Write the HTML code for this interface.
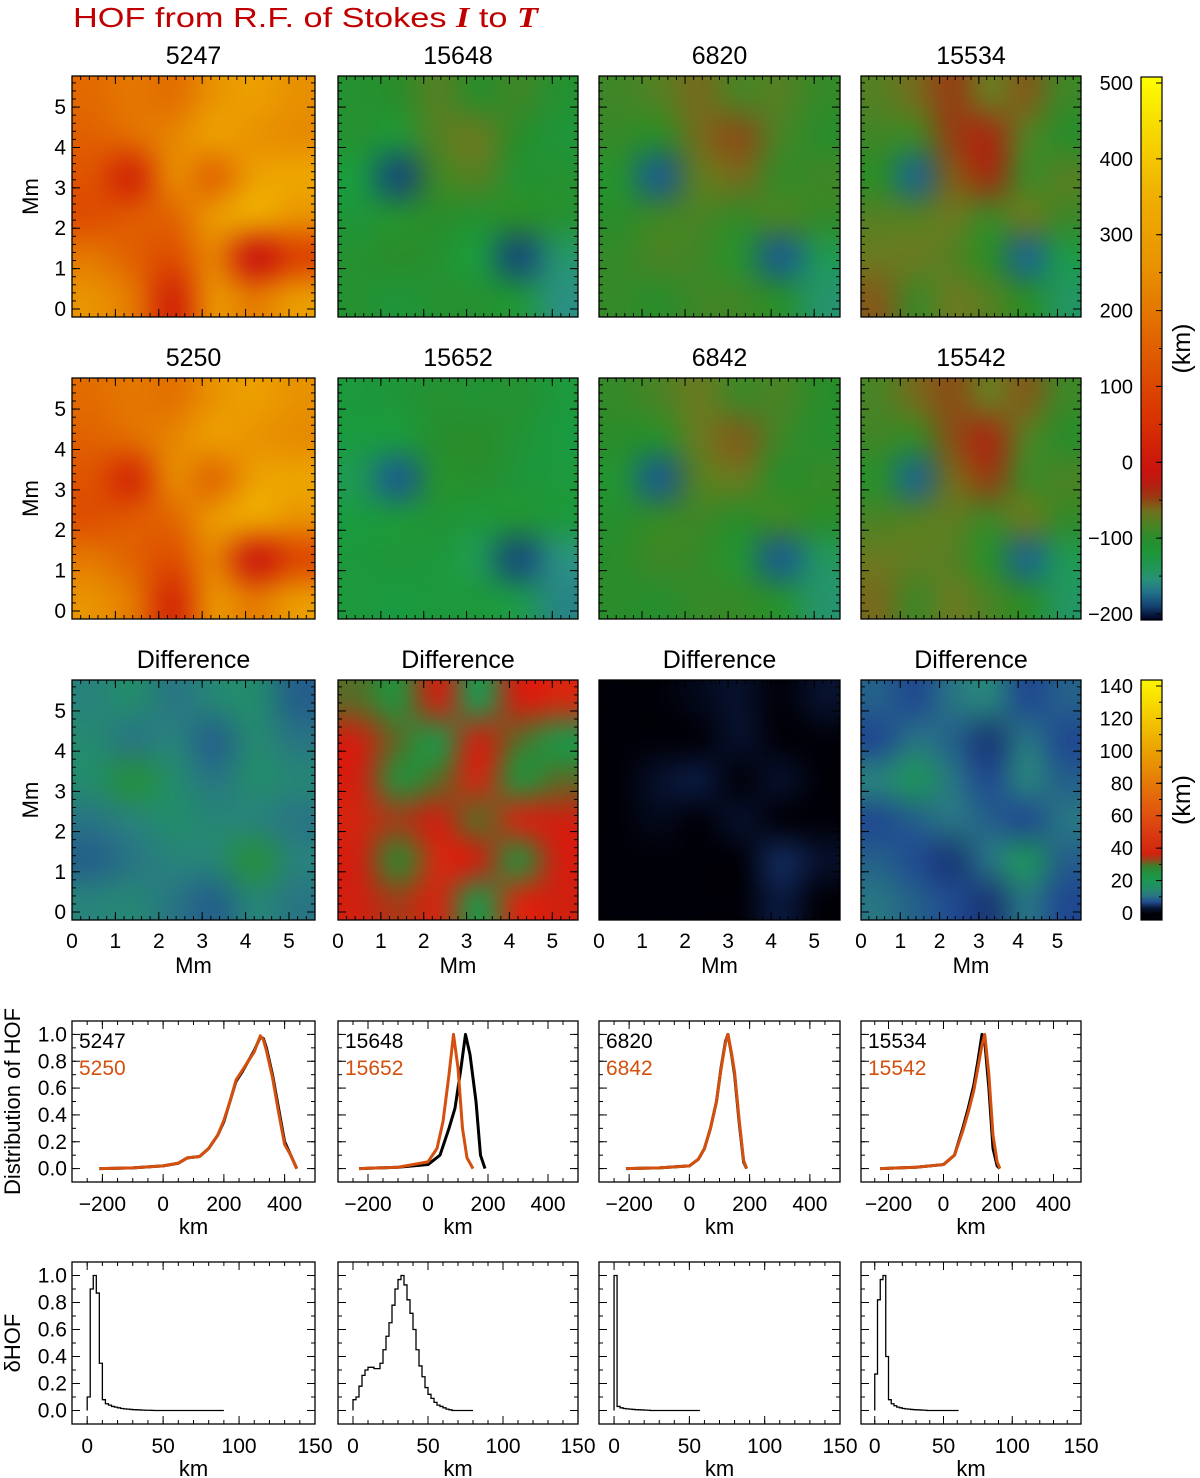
<!DOCTYPE html>
<html><head><meta charset="utf-8"><title>HOF from R.F. of Stokes I to T</title>
<style>
html,body{margin:0;padding:0;background:#fff;}
#root{position:relative;width:1200px;height:1478px;overflow:hidden;background:#fff;font-family:"Liberation Sans",sans-serif;}
canvas{position:absolute;}
#ov{position:absolute;left:0;top:0;}
</style></head>
<body>
<div id="root">
<svg id="ov" width="1200" height="1478" xmlns="http://www.w3.org/2000/svg">
<text x="73" y="27" font-size="28" fill="#c00000" font-family="Liberation Sans, sans-serif" textLength="465" lengthAdjust="spacingAndGlyphs">HOF from R.F. of Stokes <tspan font-family="Liberation Serif, serif" font-style="italic" font-weight="bold">I</tspan> to <tspan font-family="Liberation Serif, serif" font-style="italic" font-weight="bold">T</tspan></text>
</svg>
</div>
<script>
// ---------------- data ----------------
const panelTitlesRow1 = ["5247","15648","6820","15534"];
const panelTitlesRow2 = ["5250","15652","6842","15542"];
const panelTitlesRow3 = ["Difference","Difference","Difference","Difference"];
const hofTicks = [500,400,300,200,100,0,-100,-200];
const diffTicks = [140,120,100,80,60,40,20,0];
const mmTicks = [0,1,2,3,4,5];

// coarse HOF maps (km), rows top->bottom
const map5247 = [[170,200,180,260,300,250],[150,180,230,300,260,240],[120,20,240,160,300,320],[110,140,160,280,330,260],[200,150,110,220,-20,80],[260,200,20,260,200,280]];
const map15648 = [[-110,-100,-80,-100,-90,-110],[-110,-120,-80,-70,-100,-120],[-130,-190,-90,-80,-110,-110],[-120,-110,-100,-110,-100,-110],[-110,-100,-110,-130,-190,-150],[-110,-120,-110,-110,-120,-160]];
const map6820 = [[-90,-80,-65,-85,-80,-95],[-95,-100,-65,-55,-85,-100],[-110,-185,-75,-65,-95,-90],[-100,-90,-85,-95,-85,-95],[-95,-85,-90,-110,-185,-140],[-95,-100,-90,-90,-105,-150]];
const map15534 = [[-80,-65,-50,-70,-60,-90],[-90,-90,-50,-40,-80,-100],[-100,-180,-60,-45,-90,-80],[-80,-80,-70,-90,-70,-90],[-70,-70,-80,-100,-180,-135],[-60,-90,-70,-80,-100,-145]];
const map5250 = [[175,200,185,260,300,255],[155,180,230,295,260,240],[120,30,240,165,300,315],[115,140,165,280,325,260],[200,155,110,220,-10,90],[260,200,30,260,200,280]];
const map15652 = [[-125,-120,-110,-115,-110,-125],[-130,-130,-105,-100,-115,-130],[-140,-185,-110,-105,-120,-125],[-130,-125,-115,-125,-115,-125],[-125,-120,-125,-140,-190,-160],[-125,-130,-125,-125,-135,-165]];
const map6842 = [[-95,-85,-70,-90,-85,-100],[-100,-105,-70,-60,-90,-105],[-115,-185,-80,-70,-100,-95],[-105,-95,-90,-100,-90,-100],[-100,-90,-95,-115,-185,-145],[-100,-105,-95,-95,-110,-150]];
const map15542 = [[-85,-65,-55,-70,-60,-90],[-90,-95,-55,-40,-80,-100],[-105,-180,-65,-50,-90,-85],[-85,-80,-75,-90,-70,-95],[-70,-75,-80,-105,-180,-140],[-65,-90,-70,-85,-100,-145]];
// difference maps (km)
const diff1 = [[12,15,10,13,15,8],[14,10,12,8,14,10],[15,25,15,10,15,13],[10,12,15,13,12,10],[8,10,12,13,25,12],[12,13,10,8,13,10]];
const diff2 = [[30,25,35,20,35,40],[35,30,22,35,30,22],[35,25,30,38,25,30],[38,33,35,30,38,35],[35,28,40,35,25,35],[35,33,38,22,40,35]];
const diff3 = [[0,0,1,2,0,2],[0,0,0,2,0,0],[0,2,3,0,2,0],[0,1,0,2,0,0],[0,0,0,0,4,2],[0,0,0,0,3,0]];
const diff4 = [[8,6,10,12,6,8],[6,10,8,5,10,6],[12,18,10,6,12,8],[6,8,10,8,6,10],[8,6,5,10,18,8],[10,8,6,5,10,6]];

// HOF distributions
const dist1X = [-210,-100,0,50,80,120,150,180,200,220,240,260,280,300,320,330,340,360,380,400,420,440];
const dist1A = [0,0.005,0.02,0.04,0.08,0.09,0.15,0.25,0.35,0.5,0.65,0.72,0.8,0.88,0.98,0.97,0.9,0.7,0.45,0.2,0.1,0];
const dist1B = [0,0.005,0.02,0.04,0.08,0.09,0.15,0.25,0.36,0.5,0.66,0.73,0.8,0.87,0.99,0.96,0.88,0.68,0.42,0.18,0.1,0];
const dist2AX = [-230,-100,0,40,70,90,110,125,140,160,175,190];
const dist2A = [0,0.01,0.03,0.1,0.3,0.45,0.75,1.0,0.85,0.5,0.1,0];
const dist2BX = [-230,-100,0,30,50,70,85,100,115,130,150];
const dist2B = [0,0.01,0.05,0.15,0.35,0.7,1.0,0.75,0.3,0.08,0];
const dist3X = [-210,-100,0,30,50,70,90,105,120,128,140,150,165,180,190];
const dist3A = [0,0.005,0.02,0.07,0.15,0.3,0.5,0.75,0.95,1.0,0.85,0.7,0.35,0.05,0];
const dist3B = [0,0.005,0.02,0.07,0.15,0.3,0.5,0.74,0.94,1.0,0.86,0.72,0.37,0.06,0];
const dist4X = [-230,-100,0,40,70,90,110,125,140,150,165,180,195,205];
const dist4A = [0,0.01,0.03,0.1,0.3,0.45,0.62,0.8,1.0,0.95,0.6,0.15,0.02,0];
const dist4B = [0,0.01,0.03,0.1,0.28,0.42,0.58,0.75,0.92,1.0,0.7,0.25,0.05,0];

// delta HOF histograms (bin width 2 km starting at 0)
const dhof1 = [0.1,0.9,1.0,0.87,0.35,0.08,0.05,0.04,0.03,0.025,0.02,0.015,0.012,0.01,0.008,0.006,0.005,0.004,0.003,0.002,0.002,0.001];
const dhof2 = [0.08,0.1,0.18,0.26,0.3,0.32,0.32,0.31,0.31,0.35,0.45,0.55,0.65,0.78,0.9,0.97,1.0,0.93,0.82,0.72,0.6,0.45,0.33,0.25,0.17,0.12,0.09,0.06,0.04,0.03,0.02,0.01,0.005];
const dhof3 = [1.0,0.03,0.02,0.015,0.012,0.01,0.008,0.006,0.005,0.004,0.003,0.002];
const dhof4 = [0.27,0.82,0.97,1.0,0.4,0.08,0.05,0.035,0.025,0.02,0.015,0.012,0.01,0.008,0.006,0.005,0.004,0.003,0.002];
const dhofEnd = [90,80,57,61];

// ---------------- layout ----------------
const NS = "http://www.w3.org/2000/svg";
const svg = document.getElementById('ov');
const root = document.getElementById('root');
const PX = [[72,315],[338,578],[599,840],[861,1081]];
const HROWS = [[76,317],[378,619],[680,920]];
const FONT = "Liberation Sans, sans-serif";

function el(tag, attrs, parent){
  const e = document.createElementNS(NS, tag);
  for (const k in attrs) e.setAttribute(k, attrs[k]);
  (parent||svg).appendChild(e);
  return e;
}
function txt(x,y,s,size,anchor,fill,parent,rot){
  const t = el('text',{x:x,y:y,'font-size':size,'text-anchor':anchor||'middle',fill:fill||'#000','font-family':FONT},parent);
  if (rot) t.setAttribute('transform','rotate(-90 '+x+' '+y+')');
  t.textContent = s;
  return t;
}
function fmt(v){ return (v<0?'\u2212':'')+Math.abs(v); }

function lerpColor(stops, v){
  if (v<=stops[0][0]) return stops[0][1];
  for (let i=1;i<stops.length;i++){
    if (v<=stops[i][0]){
      const a=stops[i-1], b=stops[i], t=(v-a[0])/(b[0]-a[0]);
      const ca=hex(a[1]), cb=hex(b[1]);
      return 'rgb('+[0,1,2].map(j=>Math.round(ca[j]+(cb[j]-ca[j])*t)).join(',')+')';
    }
  }
  return stops[stops.length-1][1];
}
function hex(h){ return [parseInt(h.substr(1,2),16),parseInt(h.substr(3,2),16),parseInt(h.substr(5,2),16)]; }
const CM1 = [[-210,'#000020'],[-185,'#1a5a90'],[-160,'#2a9080'],[-130,'#1a9a40'],[-100,'#2a8c2a'],[-70,'#6a7a20'],[-45,'#a03010'],[-20,'#c81010'],[50,'#d83000'],[150,'#e06000'],[250,'#e89000'],[350,'#f0b000'],[450,'#f8e000'],[505,'#ffff00']];
const CM2 = [[0,'#000008'],[3,'#0a1a40'],[6,'#204a90'],[11,'#2a8080'],[20,'#1a9a50'],[28,'#2a8a30'],[35,'#d02010'],[60,'#e05010'],[100,'#eaa000'],[150,'#ffff00']];

function heatmap(grid, x0,x1,y0,y1, cm, name){
  const n = grid.length, m = grid[0].length;
  const small = document.createElement('canvas'); small.width=m; small.height=n;
  const sc = small.getContext('2d');
  for (let r=0;r<n;r++) for (let c=0;c<m;c++){ sc.fillStyle = lerpColor(cm, grid[r][c]); sc.fillRect(c,r,1,1); }
  const cv = document.createElement('canvas');
  cv.width = x1-x0; cv.height = y1-y0;
  cv.style.left = x0+'px'; cv.style.top = y0+'px';
  
  
  const ctx = cv.getContext('2d');
  ctx.imageSmoothingEnabled = true; ctx.imageSmoothingQuality='high';
  ctx.drawImage(small,0,0,m,n,0,0,cv.width,cv.height);
  root.insertBefore(cv, svg);
}

function frame(g, x0,x1,y0,y1, sx, sy, xMaj, xMin, yMaj, yMin){
  el('rect',{x:x0,y:y0,width:x1-x0,height:y1-y0,fill:'none',stroke:'#000','stroke-width':1.3},g);
  const tick=(x,y,dx,dy)=>el('line',{x1:x,y1:y,x2:x+dx,y2:y+dy,stroke:'#000','stroke-width':1},g);
  xMin.forEach(v=>{const x=sx(v); if(x>x0&&x<x1){tick(x,y1,0,-4);tick(x,y0,0,4);}});
  xMaj.forEach(v=>{const x=sx(v); if(x>x0&&x<x1){tick(x,y1,0,-8);tick(x,y0,0,8);}});
  yMin.forEach(v=>{const y=sy(v); if(y>y0&&y<y1){tick(x0,y,4,0);tick(x1,y,-4,0);}});
  yMaj.forEach(v=>{const y=sy(v); if(y>y0&&y<y1){tick(x0,y,8,0);tick(x1,y,-8,0);}});
}
function range(a,b,s){ const r=[]; for(let v=a; v<=b+1e-9; v+=s) r.push(Math.round(v*1000)/1000); return r; }

// ---------------- heatmap rows ----------------
const maps = [[map5247,map15648,map6820,map15534],[map5250,map15652,map6842,map15542],[diff1,diff2,diff3,diff4]];
const titles = [panelTitlesRow1,panelTitlesRow2,panelTitlesRow3];
for (let r=0;r<3;r++){
  const [y0,y1] = HROWS[r];
  const sy = v => (y1-8) - v*((y1-8-y0)/5.77);
  for (let c=0;c<4;c++){
    const [x0,x1] = PX[c];
    const sx = v => x0 + v*((x1-x0)/5.6);
    heatmap(maps[r][c], x0,x1,y0,y1, r<2?CM1:CM2, 'heatmap-row'+(r+1)+'-'+(c+1));
    const g = el('g',{});
    
    
    frame(g,x0,x1,y0,y1,sx,sy,mmTicks,range(0,5.6,0.2),mmTicks,range(0,5.6,0.2));
    const t = txt((x0+x1)/2, y0-12, titles[r][c], 25, 'middle', '#000', g);
    
    
    if (c===0){
      mmTicks.forEach(v=>txt(x0-6, sy(v)+7, String(v), 21, 'end', '#000', g));
      const yl = txt(38, (y0+y1)/2, 'Mm', 22, 'middle', '#000', g, true);
      
      
    }
    if (r===2){
      mmTicks.forEach(v=>txt(sx(v), y1+28, String(v), 21, 'middle', '#000', g));
      const xl = txt((x0+x1)/2, y1+53, 'Mm', 22, 'middle', '#000', g);
      
      
    }
  }
}

// ---------------- colorbars ----------------
function colorbar(y0,y1,vmin,vmax,cm,ticks,minor,ty0,ty1,tv0,tv1,name){
  const x0=1141,x1=1162;
  const g = el('g',{});
  
  
  const id = name+'-grad';
  const defs = el('defs',{},g);
  const lg = el('linearGradient',{id:id,x1:0,y1:1,x2:0,y2:0},defs);
  for (let i=0;i<=40;i++){ const v=vmin+(vmax-vmin)*i/40; el('stop',{offset:(i/40),'stop-color':lerpColor(cm,v)},lg); }
  el('rect',{x:x0,y:y0,width:x1-x0,height:y1-y0,fill:'url(#'+id+')',stroke:'#000','stroke-width':1.2},g);
  const sy = v => ty0 + (v-tv0)*(ty1-ty0)/(tv1-tv0);
  minor.forEach(v=>{const y=sy(v); if(y>y0&&y<y1) el('line',{x1:x1,y1:y,x2:x1-3,y2:y,stroke:'#000'},g);});
  ticks.forEach(v=>{const y=sy(v); if(y>y0&&y<y1) el('line',{x1:x1,y1:y,x2:x1-6,y2:y,stroke:'#000'},g);
    txt(1133, y+7, fmt(v), 20, 'end', '#000', g);});
  txt(1190,(y0+y1)/2,'(km)',25,'middle','#000',g,true);
}
colorbar(77,620,-210,505,CM1,hofTicks,range(-200,500,50),614,83,-200,500,'colorbar-hof');
colorbar(680,920,-5,145,CM2,diffTicks,range(0,140,10),913,686,0,140,'colorbar-diff');

// ---------------- distribution plots ----------------
const distSeries = [
  [dist1X,dist1A,dist1X,dist1B],[dist2AX,dist2A,dist2BX,dist2B],[dist3X,dist3A,dist3X,dist3B],[dist4X,dist4A,dist4X,dist4B]];
const legendA = panelTitlesRow1, legendB = panelTitlesRow2;
const distYT = [0,0.2,0.4,0.6,0.8,1.0], distXT = [-200,0,200,400];
for (let c=0;c<4;c++){
  const [x0,x1] = PX[c], y0=1021, y1=1182;
  const sx = v => x0 + (v+300)*(x1-x0)/800;
  const sy = v => y1 - (v+0.1)*(y1-y0)/1.2;
  const g = el('g',{});
  
  
  frame(g,x0,x1,y0,y1,sx,sy,distXT,range(-300,500,50),distYT,range(-0.1,1.1,0.1));
  const [xa,ya,xb,yb] = distSeries[c];
  const pa = el('polyline',{points:xa.map((v,i)=>sx(v)+','+sy(ya[i])).join(' '),fill:'none',stroke:'#000','stroke-width':3,'stroke-linejoin':'round'},g);
  
  
  const pb = el('polyline',{points:xb.map((v,i)=>sx(v)+','+sy(yb[i])).join(' '),fill:'none',stroke:'#d4500e','stroke-width':3,'stroke-linejoin':'round'},g);
  
  
  const la = txt(x0+7, y0+27, legendA[c], 21, 'start', '#000', g);
  
  
  const lb = txt(x0+7, y0+54, legendB[c], 21, 'start', '#d4500e', g);
  
  
  distXT.forEach(v=>txt(sx(v), y1+29, fmt(v), 21, 'middle', '#000', g));
  txt((x0+x1)/2, y1+52, 'km', 22, 'middle', '#000', g);
  if (c===0){
    distYT.forEach(v=>txt(x0-5, sy(v)+7, v.toFixed(1), 21, 'end', '#000', g));
    const yt = txt(20,(y0+y1)/2,'Distribution of HOF',22,'middle','#000',g,true);
    
    
  }
}

// ---------------- delta HOF histograms ----------------
const dhofs = [dhof1,dhof2,dhof3,dhof4];
const binW = 2;
const dXT = [0,50,100,150];
for (let c=0;c<4;c++){
  const [x0,x1] = PX[c], y0=1262, y1=1424;
  const sx = v => x0 + (v+10)*(x1-x0)/160;
  const sy = v => y1 - (v+0.1)*(y1-y0)/1.2;
  const g = el('g',{});
  
  
  frame(g,x0,x1,y0,y1,sx,sy,dXT,range(-10,150,10),distYT,range(-0.1,1.1,0.1));
  const h = dhofs[c];
  let pts = [sx(0)+','+sy(0)];
  h.forEach((v,i)=>{ pts.push(sx(i*binW)+','+sy(v)); pts.push(sx((i+1)*binW)+','+sy(v)); });
  pts.push(sx(h.length*binW)+','+sy(0)); pts.push(sx(dhofEnd[c])+','+sy(0));
  const p = el('polyline',{points:pts.join(' '),fill:'none',stroke:'#000','stroke-width':1.3},g);
  
  
  dXT.forEach(v=>txt(sx(v), y1+29, String(v), 21, 'middle', '#000', g));
  txt((x0+x1)/2, y1+52, 'km', 22, 'middle', '#000', g);
  if (c===0){
    distYT.forEach(v=>txt(x0-5, sy(v)+7, v.toFixed(1), 21, 'end', '#000', g));
    const yt = txt(20,(y0+y1)/2,'\u03b4HOF',22,'middle','#000',g,true);
    
    
  }
}
</script>
</body></html>
